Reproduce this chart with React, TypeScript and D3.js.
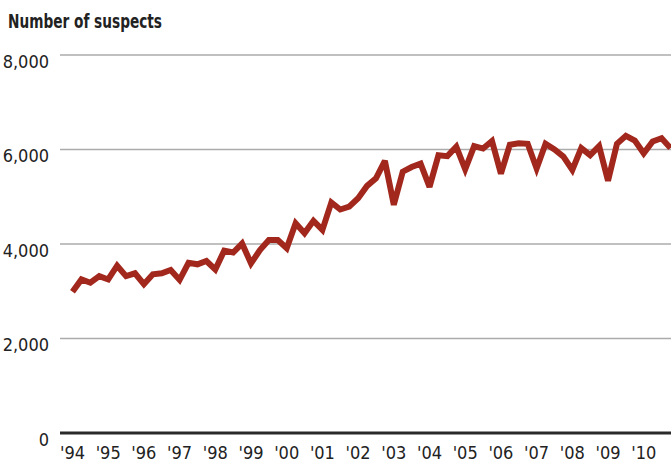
import React, { useEffect, useRef } from "react";
import * as d3 from "d3";

// quarterly counts, 1994 Q1 .. 2010 Q4
const years = [1994, 1995, 1996, 1997, 1998, 1999, 2000, 2001, 2002, 2003, 2004, 2005, 2006, 2007, 2008, 2009, 2010];
const suspects = [
  2990, 3250, 3180, 3320,
  3250, 3540, 3320, 3380,
  3150, 3360, 3380, 3450,
  3240, 3600, 3570, 3640,
  3460, 3860, 3820, 4010,
  3590, 3870, 4085, 4085,
  3910, 4440, 4230, 4490,
  4300, 4880, 4730, 4790,
  4970, 5230, 5390, 5760,
  4830, 5530, 5630, 5700,
  5210, 5880, 5860, 6060,
  5580, 6070, 6020, 6180,
  5490, 6100, 6130, 6120,
  5600, 6120, 6000, 5850,
  5570, 6030, 5880, 6070,
  5340, 6120, 6290, 6190,
  5920, 6170, 6240, 6030,
];
const yTicks = [0, 2000, 4000, 6000, 8000];

const W = 671;
const H = 463;
const FONT = "'Liberation Sans Narrow', 'DejaVu Sans Condensed', 'Roboto Condensed', sans-serif";

const App = () => {
  const ref = useRef<SVGSVGElement>(null);

  useEffect(() => {
    const svg = d3.select(ref.current);
    svg.selectAll("*").remove();

    const x = d3.scaleLinear().domain([0, suspects.length - 1]).range([72.5, 670.5]);
    const y = d3.scaleLinear().domain([0, 8000]).range([433, 55]);

    svg
      .append("text")
      .attr("x", 8)
      .attr("y", 27.5)
      .attr("font-family", FONT)
      .attr("font-weight", "bold")
      .attr("font-size", 20)
      .attr("textLength", 154)
      .attr("lengthAdjust", "spacingAndGlyphs")
      .attr("fill", "#222")
      .text("Number of suspects");

    // gridlines
    svg
      .selectAll("line.grid")
      .data(yTicks.filter((t) => t > 0))
      .join("line")
      .attr("class", "grid")
      .attr("x1", 60)
      .attr("x2", W)
      .attr("y1", (d) => y(d))
      .attr("y2", (d) => y(d))
      .attr("stroke", "#ababab")
      .attr("stroke-width", 1.5);

    svg
      .selectAll("text.ylab")
      .data(yTicks)
      .join("text")
      .attr("class", "ylab")
      .attr("x", 49)
      .attr("y", (d) => y(d) + 12.5)
      .attr("text-anchor", "end")
      .attr("font-family", FONT)
      .attr("font-size", 18)
      .attr("fill", "#222")
      .text((d) => d3.format(",")(d));

    // baseline
    svg
      .append("line")
      .attr("x1", 60)
      .attr("x2", W)
      .attr("y1", y(0))
      .attr("y2", y(0))
      .attr("stroke", "#2a2a2a")
      .attr("stroke-width", 3);

    svg
      .selectAll("text.xlab")
      .data(years)
      .join("text")
      .attr("class", "xlab")
      .attr("x", (d, i) => x(i * 4))
      .attr("y", 459)
      .attr("text-anchor", "middle")
      .attr("font-family", FONT)
      .attr("font-size", 18)
      .attr("fill", "#222")
      .text((d) => "'" + String(d).slice(2));

    const line = d3
      .line<number>()
      .x((d, i) => x(i))
      .y((d) => y(d));

    svg
      .append("path")
      .datum(suspects)
      .attr("d", line)
      .attr("fill", "none")
      .attr("stroke", "#a2281d")
      .attr("stroke-width", 6)
      .attr("stroke-linejoin", "miter")
      .attr("stroke-miterlimit", 3);
  }, []);

  return (
    <svg
      ref={ref}
      width={W}
      height={H}
      style={{ position: "absolute", left: 0, top: 0, background: "#fff" }}
    ></svg>
  );
};

export default App;
